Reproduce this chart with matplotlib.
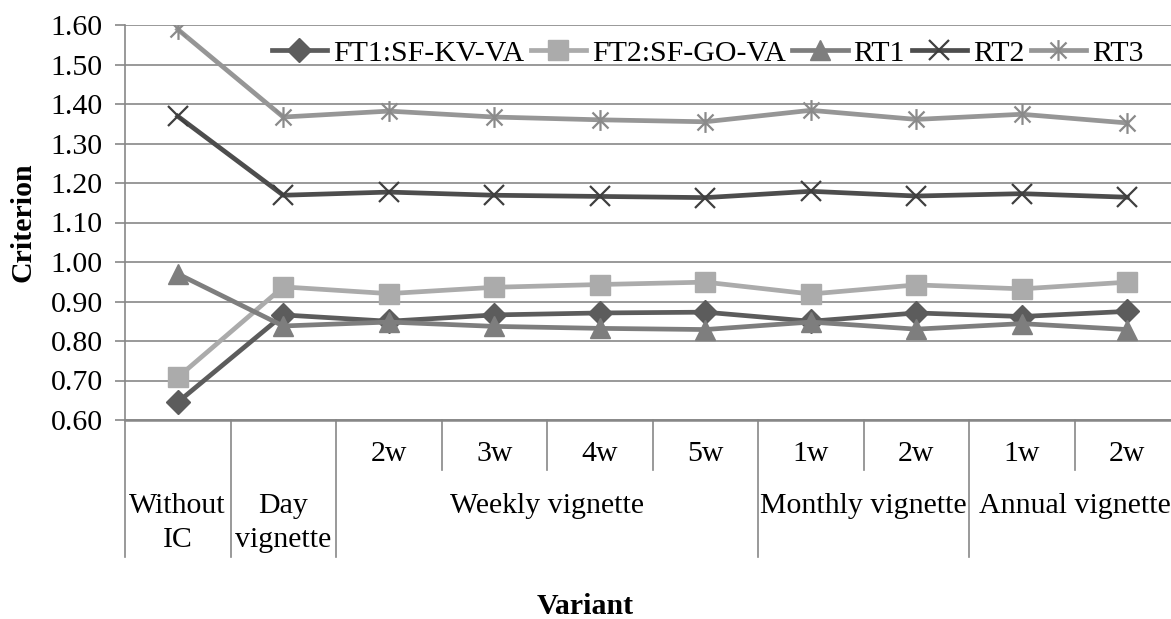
import matplotlib
matplotlib.use("Agg")
import matplotlib.pyplot as plt
import matplotlib.transforms as mtransforms
from matplotlib.path import Path
import numpy as np

plt.rcParams["font.family"] = ["Liberation Serif", "DejaVu Serif"]

# --- data ---
sub_labels = ["", "", "2w", "3w", "4w", "5w", "1w", "2w", "1w", "2w"]
groups = [("Without\nIC", 0, 0), ("Day\nvignette", 1, 1), ("Weekly vignette", 2, 5),
          ("Monthly vignette", 6, 7), ("Annual vignette", 8, 9)]
ft1 = [0.645, 0.866, 0.850, 0.866, 0.871, 0.873, 0.850, 0.871, 0.862, 0.875]
ft2 = [0.708, 0.937, 0.920, 0.936, 0.943, 0.949, 0.919, 0.942, 0.932, 0.949]
rt1 = [0.970, 0.838, 0.848, 0.837, 0.832, 0.829, 0.848, 0.830, 0.844, 0.829]
rt2 = [1.369, 1.169, 1.177, 1.169, 1.166, 1.163, 1.179, 1.167, 1.173, 1.164]
rt3 = [1.589, 1.367, 1.382, 1.367, 1.360, 1.355, 1.384, 1.361, 1.374, 1.352]

GRID = "#878787"
FS = 21.5

# X with a vertical bar, like the Excel "star" marker
star = Path([(-1, -1), (1, 1), (-1, 1), (1, -1), (0, -1.3), (0, 1.3)],
            [Path.MOVETO, Path.LINETO] * 3)

W, H = 1171, 619
fig = plt.figure(figsize=(W / 100, H / 100), dpi=100)
ax = fig.add_axes([125 / W, 1 - 420 / H, 1055 / W, 395 / H])

x = np.arange(len(ft1))
lw = 3.4
ax.plot(x, ft1, color="#5c5c5c", lw=lw, marker="D", ms=12, label="FT1:SF-KV-VA")
ax.plot(x, ft2, color="#ababab", lw=lw, marker="s", ms=15, label="FT2:SF-GO-VA")
ax.plot(x, rt1, color="#7e7e7e", lw=lw, marker="^", ms=15, label="RT1")
ax.plot(x, rt2, color="#4d4d4d", lw=lw, marker="x", ms=15, mew=1.6,
        mec="#3f3f3f", label="RT2")
ax.plot(x, rt3, color="#969696", lw=lw, marker=star, ms=15, mew=1.6,
        mec="#8a8a8a", mfc="none", label="RT3")

ax.set_xlim(-0.5, len(ft1) - 0.5)
ax.set_ylim(0.6, 1.6)
ax.set_yticks(np.arange(0.6, 1.61, 0.1))
ax.set_yticklabels([f"{v:.2f}" for v in np.arange(0.6, 1.61, 0.1)], fontsize=FS)
ax.set_xticks([])
ax.yaxis.grid(True, color=GRID, lw=1.2)
ax.set_axisbelow(True)
ax.tick_params(axis="y", length=7, width=1.2, color=GRID, pad=9)
for s in ["top", "right"]:
    ax.spines[s].set_visible(False)
ax.spines["left"].set_color(GRID)
ax.spines["left"].set_linewidth(1.2)
ax.spines["bottom"].set_color(GRID)
ax.spines["bottom"].set_linewidth(1.8)

ax.legend(loc="upper left", bbox_to_anchor=(0.125, 1.0), ncol=5, frameon=False,
          fontsize=FS, handlelength=1.85, handletextpad=0.2, columnspacing=0.22,
          borderaxespad=0.1)

# category table under the axis
tr = mtransforms.blended_transform_factory(ax.transData, ax.transAxes)
row1 = -50 / 395
row2 = -137 / 395
long_edges = [-0.5] + [g[2] + 0.5 for g in groups]
for i in range(len(ft1)):
    e = i - 0.5
    bottom = row2 if e in long_edges else row1
    ax.plot([e, e], [0, bottom], transform=tr, color=GRID, lw=1.2, clip_on=False)
for i, lab in enumerate(sub_labels):
    ax.text(i, -34 / 395, lab, transform=tr, ha="center", va="center", fontsize=FS)
for lab, a, b in groups:
    ax.text((a + b) / 2, -73 / 395, lab, transform=tr, ha="center", va="top",
            fontsize=FS, linespacing=1.4)

fig.text(23 / W, 1 - 222 / H, "Criterion", rotation=90, ha="center", va="center",
         fontsize=FS, fontweight="bold")
fig.text(585 / W, 1 - 607 / H, "Variant", ha="center", va="center",
         fontsize=FS, fontweight="bold")

fig.savefig("out.png", dpi=100)
